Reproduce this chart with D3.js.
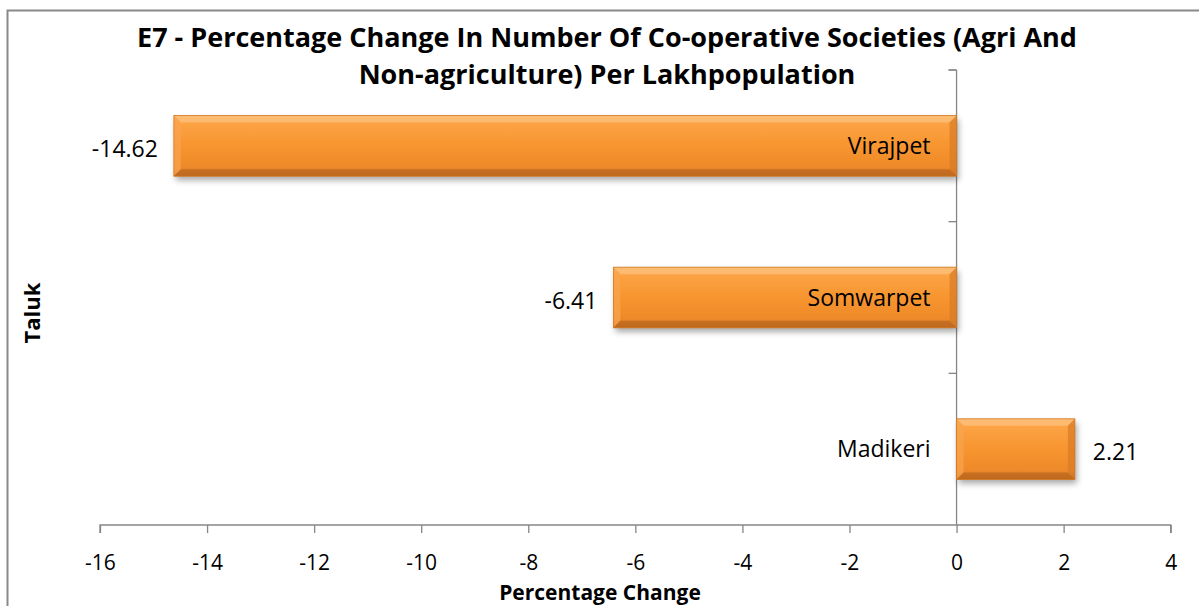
<!DOCTYPE html>
<html><head><meta charset="utf-8">
<script src="https://cdn.jsdelivr.net/npm/d3@7"></script>
<style>body{margin:0;background:#fff;}svg{display:block;font-family:"Open Sans","Noto Sans",sans-serif;}</style>
</head><body>
<script>
const categories = ["Madikeri", "Somwarpet", "Virajpet"];
const values = [2.21, -6.41, -14.62];
const xTicks = [-16, -14, -12, -10, -8, -6, -4, -2, 0, 2, 4];
const titleLines = ["E7 - Percentage Change In Number Of Co-operative Societies (Agri And", "Non-agriculture) Per Lakhpopulation"];
const xTitle = "Percentage Change";
const yTitle = "Taluk";

const W = 1199, H = 606;
const svg = d3.select("body").append("svg").attr("width", W).attr("height", H);
const defs = svg.append("defs");
const g1 = defs.append("linearGradient").attr("id","barg").attr("x1",0).attr("y1",0).attr("x2",0).attr("y2",1);
[[0,"#fbb261"],[0.12,"#fca345"],[0.5,"#f7952f"],[0.85,"#ee8a2a"],[1,"#c66d22"]].forEach(([o,c])=>g1.append("stop").attr("offset",o).attr("stop-color",c));
const f = defs.append("filter").attr("id","sh").attr("x","-5%").attr("y","-20%").attr("width","115%").attr("height","150%");
f.append("feGaussianBlur").attr("in","SourceAlpha").attr("stdDeviation",3);
f.append("feOffset").attr("dx",2).attr("dy",4).attr("result","b");
f.append("feComponentTransfer").append("feFuncA").attr("type","linear").attr("slope",0.35);
const m = f.append("feMerge"); m.append("feMergeNode"); m.append("feMergeNode").attr("in","SourceGraphic");

svg.append("rect").attr("x",7.5).attr("y",10.5).attr("width",1205).attr("height",610).attr("fill","none").attr("stroke","#898989").attr("stroke-width",2);

const x = d3.scaleLinear().domain([-16,4]).range([100,1170.7]);
const y = d3.scaleBand().domain(categories).range([525,70]).paddingInner(0.6).paddingOuter(0.3);
const band = d3.scaleBand().domain(categories).range([525,70]);
const axisColor = "#868686";

// x axis
const xa = svg.append("g").attr("transform","translate(0,525)")
  .call(d3.axisBottom(x).tickValues(xTicks).tickSize(8).tickPadding(22).tickFormat(d=>d<0?"-"+Math.abs(d):d));
xa.select(".domain").attr("stroke",axisColor).attr("stroke-width",1.3).attr("d","M100,8V0H1170.7V8");
xa.selectAll(".tick line").attr("stroke",axisColor).attr("stroke-width",1.3);
xa.selectAll(".tick text").attr("fill","#000").style("font-size","21px").style("font-family","'Open Sans',sans-serif");

// y axis line at 0
const ya = svg.append("g").attr("transform",`translate(${x(0)},0)`);
ya.append("line").attr("y1",70).attr("y2",525).attr("stroke",axisColor).attr("stroke-width",1.3);
const bTicks = categories.map(c=>band(c)).concat([70]);
ya.selectAll("line.t").data(bTicks).join("line").attr("class","t").attr("x1",-8).attr("x2",0).attr("y1",d=>d).attr("y2",d=>d).attr("stroke",axisColor).attr("stroke-width",1.3);

// bars
const bars = svg.append("g").selectAll("g").data(categories.map((c,i)=>({c,v:values[i]}))).join("g");
bars.append("rect").attr("x",d=>x(Math.min(0,d.v))).attr("y",d=>y(d.c)).attr("width",d=>Math.abs(x(d.v)-x(0))).attr("height",y.bandwidth()).attr("fill","url(#barg)").attr("filter","url(#sh)");
const bv = 7;
bars.each(function(d){
  const gx0 = x(Math.min(0,d.v)), gx1 = x(Math.max(0,d.v)), gy0 = y(d.c), gy1 = gy0 + y.bandwidth();
  const s = d3.select(this);
  s.append("polygon").attr("points",`${gx0},${gy0} ${gx1},${gy0} ${gx1-bv},${gy0+bv} ${gx0+bv},${gy0+bv}`).attr("fill","#fdc27f").attr("opacity",0.7);
  s.append("polygon").attr("points",`${gx0},${gy0} ${gx0+bv},${gy0+bv} ${gx0+bv},${gy1-bv} ${gx0},${gy1}`).attr("fill","#f9a450").attr("opacity",0.7);
  s.append("polygon").attr("points",`${gx1},${gy0} ${gx1},${gy1} ${gx1-bv},${gy1-bv} ${gx1-bv},${gy0+bv}`).attr("fill","#d97a25").attr("opacity",0.7);
  s.append("polygon").attr("points",`${gx0},${gy1} ${gx1},${gy1} ${gx1-bv},${gy1-bv} ${gx0+bv},${gy1-bv}`).attr("fill","#b8651f").attr("opacity",0.65);
  s.append("rect").attr("x",gx0).attr("y",gy0).attr("width",gx1-gx0).attr("height",gy1-gy0).attr("fill","none").attr("stroke","#d2781f").attr("stroke-width",0.8);
});

// category labels
svg.append("g").selectAll("text").data(categories).join("text")
  .attr("x",x(0)-26).attr("y",d=>y(d)+y.bandwidth()/2).attr("dy","0.35em").attr("text-anchor","end")
  .style("font-size","23px").attr("fill","#000").text(d=>d);

// value labels
svg.append("g").selectAll("text").data(categories.map((c,i)=>({c,v:values[i]}))).join("text")
  .attr("x",d=>d.v<0? x(d.v)-16 : x(d.v)+18).attr("y",d=>y(d.c)+y.bandwidth()/2+3).attr("dy","0.35em")
  .attr("text-anchor",d=>d.v<0?"end":"start").style("font-size","23px").attr("fill","#000").text(d=>d.v.toFixed(2));

// title
svg.append("g").selectAll("text").data(titleLines).join("text")
  .attr("x",607).attr("y",(d,i)=>47+i*37).attr("text-anchor","middle")
  .style("font-size","27px").style("font-weight","bold").attr("fill","#000").text(d=>d);

svg.append("text").attr("x",600).attr("y",600).attr("text-anchor","middle").style("font-size","21px").style("font-weight","bold").text(xTitle);
svg.append("text").attr("transform","translate(40,313) rotate(-90)").attr("text-anchor","middle").style("font-size","22px").style("font-weight","bold").text(yTitle);
</script>
</body></html>
